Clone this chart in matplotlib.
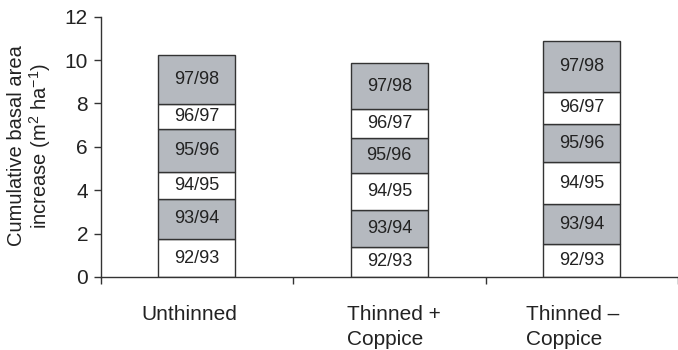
import numpy as np
import matplotlib.pyplot as plt

plt.rcParams['font.family'] = ['Liberation Sans', 'DejaVu Sans']
plt.rcParams['mathtext.fontset'] = 'custom'
plt.rcParams['mathtext.rm'] = 'Liberation Sans'
plt.rcParams['mathtext.it'] = 'Liberation Sans:italic'

treatments = ['Unthinned', 'Thinned +\nCoppice', 'Thinned \u2013\nCoppice']
seasons = ['92/93', '93/94', '94/95', '95/96', '96/97', '97/98']

# basal area increment per season (m2 ha-1), one row per season
increments = np.array([
    [1.75, 1.40, 1.51],
    [1.85, 1.69, 1.84],
    [1.26, 1.70, 1.94],
    [1.96, 1.61, 1.77],
    [1.15, 1.35, 1.49],
    [2.26, 2.11, 2.31],
])

yticks = [0, 2, 4, 6, 8, 10, 12]

text_col = '#222222'
edge_col = '#333333'
fills = ['white', '#b5b9bf']

fig = plt.figure(figsize=(6.78, 3.5), dpi=100)
ax = fig.add_axes([100.5 / 678, 73 / 350, 577.5 / 678, 260.3 / 350])

x = np.arange(len(treatments))
bottom = np.zeros(len(treatments))
for i, season in enumerate(seasons):
    vals = increments[i]
    ax.bar(x, vals, width=0.4, bottom=bottom, color=fills[i % 2],
           edgecolor=edge_col, linewidth=1.0, zorder=2)
    for xi, b, v in zip(x, bottom, vals):
        ax.text(xi, b + v / 2, season, ha='center', va='center',
                fontsize=13, color=text_col, zorder=3)
    bottom = bottom + vals

ax.set_xlim(-0.5, -0.5 + 577.5 / 195)
ax.set_ylim(0, 12)
ax.set_yticks(yticks)
ax.tick_params(axis='y', length=5, width=1.0, color=edge_col,
               labelsize=15, labelcolor=text_col, pad=4)

# boundary ticks between treatments, labels placed on minor ticks
ax.set_xticks([-0.5, 0.5, 1.5, 2.5])
ax.set_xticklabels([])
ax.tick_params(axis='x', which='major', length=5, width=1.0, color=edge_col)
label_shift = np.array([-0.04, 0.025, -0.045])
ax.set_xticks(x + label_shift, minor=True)
ax.set_xticklabels(treatments, minor=True, fontsize=15, color=text_col,
                   linespacing=1.4, multialignment='left')
ax.tick_params(axis='x', which='minor', length=0, pad=20)

for side in ['top', 'right']:
    ax.spines[side].set_visible(False)
for side in ['left', 'bottom']:
    ax.spines[side].set_color(edge_col)
    ax.spines[side].set_linewidth(1.0)

fig.text(30 / 678, 1 - 146 / 350,
         'Cumulative basal area\nincrease (m$^2$ ha$^{-1}$)',
         rotation=90, ha='center', va='center', fontsize=14.5,
         color=text_col, linespacing=1.1)

fig.savefig('out.png', dpi=100)
